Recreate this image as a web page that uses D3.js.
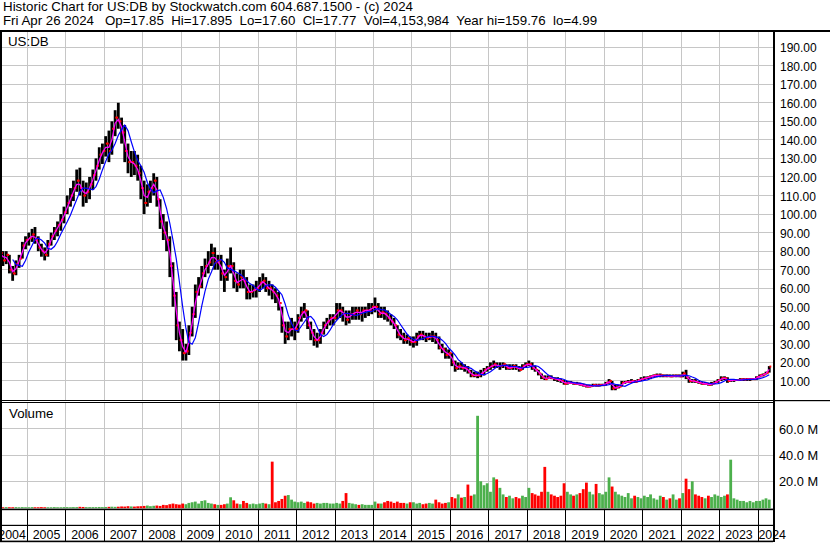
<!DOCTYPE html>
<html><head><meta charset="utf-8">
<script src="https://cdn.jsdelivr.net/npm/d3@7"></script>
<style>
html,body{margin:0;padding:0;background:#fff;}
svg{display:block;font-family:"Liberation Sans",Arial,sans-serif;}
text{white-space:pre;}
</style></head><body>
<svg id="c" width="830" height="543"></svg>
<script>
// ---- DATA (monthly, Apr 2004 .. Apr 2024) ----
const firstMonth = "2004-04";
const lastMonth = "2024-04";
const highs = [84,80,80,78,72,75,78,85,88,
 90,92,93,88,84,82,86,90,93,96,100,104,
 110,114,118,124,125,118,117,120,124,130,136,138,
 142,145,150,156,160,152,148,138,134,134,132,126,
 118,116,118,122,120,108,100,96,88,74,58,42,
 38,30,40,50,62,66,72,76,80,84,82,78,
 78,70,76,82,74,68,70,70,66,62,62,64,
 66,68,66,64,62,60,58,50,42,42,44,42,
 46,50,52,48,42,38,36,38,42,44,46,46,
 52,52,50,48,48,50,50,50,50,50,52,52,
 55,52,50,50,48,46,44,40,38,36,35,34,
 34,36,37,37,36,36,37,36,34,30,28,27,
 25,21,20,20,19,18,16,15,15,16,17,18,
 20,21,20,20,20,19,19,19,19,18,19,20,
 21,20,18,16,14,13,13,13,12,12,11,10.5,
 10,10,9.5,9.5,9,8.5,8,8,8.5,8.5,8.5,8.5,
 9.5,11,10,8,8,10,10,10.5,11,10.5,11,12,
 12.5,12.5,13,13.5,14,14,13.5,13.5,13.5,13.5,13.5,13.5,
 15,16,12,11,11,10,9.5,9.5,9,9.5,10,11,
 12.5,12.5,12,11,11,11,11.5,11.5,11.5,11.5,11.5,12.5,
 13.5,14,15,18];
const lows = [76,72,73,68,64,67,71,76,81,
 83,85,84,80,77,75,77,83,86,88,91,95,
 100,104,107,112,110,104,106,108,113,118,124,127,
 131,128,132,142,146,138,128,122,120,121,118,108,
 100,104,106,110,104,92,86,80,66,50,32,26,
 21,21,24,34,44,56,60,66,68,72,70,70,
 64,58,64,68,60,58,60,60,54,54,55,55,
 58,60,58,56,54,52,48,36,30,32,34,32,
 36,42,44,38,32,29,28,30,35,38,40,40,
 43,44,42,40,41,43,43,43,42,44,45,46,
 47,44,44,43,42,40,38,33,32,30,30,29,
 28,29,32,32,31,32,31,30,27,25,22,22,
 18,15,16,16,15,14,12,12,11.5,12,13,15,
 16,17,17,16,17,16,16,16,16,15,16,17,
 18,16,15,13,11,10.5,11,11,10,9.5,9,8,
 8,8.5,8,8,7.5,7,6.5,6.5,7,7,7,7.2,
 7.5,8.5,5,5,6,7,8.5,9,9,9,9.5,10,
 10.5,11,11,12,12,12,12,12,12,12,12,12,
 12,11,9,9,9,8.5,8,8,7.5,7.5,8.5,9,
 10,10.5,9,9.5,9.5,10,10,10,10,10,10.5,10.5,
 12,12.5,13.5,14.5];
const closes = [79,75,78,70,68,73,76,83,86,
 87,89,86,82,80,78,84,88,91,94,97,101,
 106,110,114,118,114,110,112,116,121,126,132,134,
 138,134,146,152,150,144,134,128,128,126,122,114,
 106,112,114,118,108,96,90,86,72,56,40,32,
 25,26,36,46,58,61,68,72,74,79,74,75,
 68,66,72,72,64,62,66,64,58,58,59,60,
 63,64,60,60,58,56,52,40,34,38,38,38,
 44,47,48,40,36,32,32,36,40,42,44,44,
 48,48,46,43,46,46,48,46,48,48,48,50,
 50,46,47,46,44,42,40,35,34,32,33,31,
 31,34,35,34,33,34,34,32,28,27,24,25,
 20,17,18,17,17,15,13,13,13,14,16,17,
 18,19,18,18,19,17,17,18,17,16,18,19,
 19,17,16,14,12,11,12,11.5,11,10.5,10,8.5,
 9,9,8.5,8.5,8,7.5,7,7.2,7.8,7.5,7.8,7.8,
 9,10,6,6.5,7,9,9.5,9.5,10,9.5,10.5,11,
 11.5,12,12.5,13,13,13,12.8,12.8,12.5,12.8,12.8,12.5,
 14,12,10,10,9.5,9,8.5,8.5,8,8.5,9.5,10.5,
 11.5,11.5,10,10.5,10.5,10.5,10.8,10.8,11,11,11,12,
 13,13.5,14.5,17.77];
// magenta (short) moving average, one value per month
const shortAvg = [79,77,76.5,74,69,70.5,74.5,79.5,84.5,
 86.5,88,87.5,84,81,79,81,86,89.5,92.5,95.5,99,
 103.5,108,112,116,116,112,111,114,118.5,123.5,129,133,
 136,136,140,149,151,147,139,131,128,127,124,118,
 110,109,113,116,113,102,93,88,79,64,48,36,
 28.5,25.5,31,41,52,59.5,64.5,70,73,76.5,76.5,74.5,
 71.5,67,69,72,68,63,64,65,61,58,58.5,59.5,
 61.5,63.5,62,60,59,57,54,46,37,36,38,38,
 41,45.5,47.5,44,38,34,32,34,38,41,43,44,
 46,48,47,44.5,44.5,46,47,47,47,48,48,49,
 50,48,46.5,46.5,45,43,41,37.5,34.5,33,32.5,32,
 31,32.5,34.5,34.5,33.5,33.5,34,33,30,27.5,25.5,24.5,
 22.5,18.5,17.5,17.5,17,16,14,13,13,13.5,15,16.5,
 17.5,18.5,18.5,18,18.5,18,17,17.5,17.5,16.5,17,18.5,
 19,18,16.5,15,13,11.5,11.5,11.8,11.2,10.8,10.2,9.2,
 8.8,9,8.8,8.5,8.2,7.8,7.2,7.1,7.5,7.6,7.6,7.8,
 8.4,9.5,8,6.2,6.8,8,9.2,9.5,9.8,9.8,10,10.8,
 11.2,11.8,12.2,12.8,13,13,12.9,12.8,12.6,12.6,12.8,12.6,
 13.2,13,11,10,9.8,9.2,8.8,8.5,8.2,8.2,9,10,
 11,11.5,10.8,10.2,10.5,10.5,10.6,10.8,10.9,11,11,11.5,
 12.5,13.2,14,16.2];
// blue (long) moving average, begins Aug 2004
const longAvgStart = "2004-08";
const longAvg = [75.5,72.8,72.3,71.8,75,
 79.5,83,86.3,87,86,84.3,81.5,81,82.5,85.3,89.3,92.5,
 95.8,99.5,103.5,107.8,112,114,114,113.5,113,114.8,118.8,123.8,
 128.3,132.5,134.5,138,142.5,145.5,148,145,139,133.5,129,126,
 122.5,117,113.5,111.5,112.5,113,109,103,95,86,76,63.5,
 50,38.3,30.8,29.8,33.3,41.5,50.3,58.3,64.8,68.8,73.3,74.8,
 75.5,74,70.8,70.3,69.5,68.5,67.5,66,64,62.5,61.5,59.8,
 58.8,60,61.5,61.8,61.8,60.5,58.5,56.5,51.5,45.5,41,37.5,
 37,39.5,41.8,44.3,44.8,42.8,39,35,34,35,37.5,40.5,
 42.5,44.5,46,46.5,46.3,45.8,45.3,45.8,46.5,47,47.5,47.5,
 48.5,49,48.5,48.3,47.3,45.8,44.8,43,40.3,37.8,35.3,33.5,
 32.5,31.8,32.3,32.8,33.5,34,34,33.8,33.3,32,30.3,27.8,
 26,24,21.5,20,18,17.3,16.8,15.5,14.5,13.5,13.3,14,
 15,16.3,17.5,18,18.3,18.5,18,17.8,17.8,17.3,17,17.3,
 17.5,18,18.3,17.8,16.5,14.8,13.3,12.3,11.6,11.4,11.3,10.8,
 10,9.5,9.1,8.8,8.8,8.5,8.1,7.8,7.4,7.4,7.4,7.6,
 7.7,8,8.7,8.2,7.9,7.4,7.1,8,8.8,9.5,9.6,9.9,
 10.3,10.6,11.3,11.8,12.3,12.6,12.9,13,12.9,12.8,12.7,12.7,
 12.7,13,12.8,12.1,11.5,10.4,9.6,9.3,8.9,8.5,8.4,8.6,
 9.1,10,10.8,10.9,10.9,10.6,10.4,10.6,10.7,10.8,10.9,11,
 11.3,11.8,12.4,13.3];
// volume, millions of shares per month (peak)
const volumes = [0.3,0.2,0.3,0.2,0.2,0.3,0.2,0.3,0.2,
 0.2,0.3,0.2,0.2,0.3,0.2,0.2,0.2,0.3,0.2,0.2,0.3,
 0.3,0.2,0.3,0.3,0.5,0.4,0.3,0.3,0.3,0.3,0.4,0.3,
 0.4,0.5,0.6,0.5,0.6,0.8,0.7,1.0,0.8,0.7,0.9,1.0,
 1.2,1.5,1.0,1.3,1.5,1.2,2.0,1.8,2.5,3.0,2.5,2.2,
 3.0,2.5,3.5,4.0,4.5,3.0,5.0,5.5,3.5,3.0,2.5,2.0,
 2.0,2.5,3.0,7.8,5.5,3.0,2.5,5.0,3.5,2.5,3.0,2.5,
 3.0,3.5,3.0,2.5,35,4.0,5.0,6.5,9.0,9.5,6.0,4.5,
 4.0,4.5,3.5,4.5,4.0,3.0,3.5,3.0,3.5,3.5,3.0,3.0,
 3.5,3.0,5.0,11,3.5,3.0,2.5,2.0,2.5,2.0,2.0,2.0,
 4.5,3.0,3.0,4.0,5.0,4.5,3.5,4.5,3.5,3.5,3.0,4.0,
 4.0,3.0,3.5,2.5,3.0,3.5,3.0,6.0,4.0,3.0,3.5,4.0,
 8.0,7.0,10.0,7.5,8.0,17.5,9.0,10,70,20,17,18.5,
 12,23,21.5,15,10,8,9,7,8,7,9,8,
 15,11,10,9,12,31,12,10,9,8,9,18.5,
 12,10,9,10,11,14,19,12,10,18,11,10,
 12,23,16,12,10,9,8,11,7,9,8,7,
 9,8,10,7,6,9,8,6,7,10,6,7,
 11,22,14,20,10,9,8,7,9,8,10,9,
 8,9,10,36.5,7,6,5,5,4,5,4,5,
 5,6,7,6];
const priceTicks = [10,20,30,40,50,60,70,80,90,100,110,120,130,140,150,160,170,180,190];
const volumeTicks = [20,40,60];
const years = [2004,2005,2006,2007,2008,2009,2010,2011,2012,2013,2014,2015,2016,2017,2018,2019,2020,2021,2022,2023,2024];
const headerLine1 = "Historic Chart for US:DB by Stockwatch.com 604.687.1500 - (c) 2024";
const headerLine2 = "Fri Apr 26 2024   Op=17.85  Hi=17.895  Lo=17.60  Cl=17.77  Vol=4,153,984  Year hi=159.76  lo=4.99";

// ---- LAYOUT ----
const W = 830, H = 543;
const plotL = 2, plotR = 773;
const priceTop = 32, priceBot = 400;
const volTop = 403, volBot = 508.5;
const parse = d3.timeParse("%Y-%m");
const months = d3.timeMonth.range(parse(firstMonth), d3.timeMonth.offset(parse(lastMonth), 1))
  .map(d => d3.timeDay.offset(d, 14));
const longMonths = months.slice(months.findIndex(d => d3.timeFormat("%Y-%m")(d) === longAvgStart));

const x = d3.scaleTime().domain([new Date(2005,0,1), new Date(2024,0,1)]).range([27.3, 758.2]);
const y = d3.scaleLinear().domain([0, 200]).range([399.5, 28.6]);
const yv = d3.scaleLinear().domain([0, 80]).range([507.5, 402.7]);
const crisp = v => Math.floor(v) + 0.5;

const svg = d3.select("#c");
svg.append("rect").attr("width", W).attr("height", H).attr("fill", "#fff");

// header
svg.append("text").attr("x", 3).attr("y", 10.5).attr("font-size", 13.3)
  .attr("textLength", 410).attr("lengthAdjust", "spacing").text(headerLine1);
svg.append("text").attr("x", 3).attr("y", 24.5).attr("font-size", 13.3).text(headerLine2);

svg.append("clipPath").attr("id", "cp").append("rect")
  .attr("x", plotL).attr("y", priceTop).attr("width", plotR - plotL).attr("height", priceBot - priceTop);
svg.append("clipPath").attr("id", "cv").append("rect")
  .attr("x", plotL).attr("y", volTop).attr("width", plotR - plotL).attr("height", volBot - volTop);

const gridCol = "#c6c6c6";
const yearBounds = years.slice(1).map(yr => new Date(yr, 0, 1));

// price grid
const gp = svg.append("g");
gp.selectAll(".hg").data(priceTicks).join("line")
  .attr("x1", plotL).attr("x2", plotR).attr("y1", d => crisp(y(d))).attr("y2", d => crisp(y(d)))
  .attr("stroke", gridCol).attr("stroke-width", 1);
gp.selectAll(".vg").data(yearBounds).join("line")
  .attr("x1", d => crisp(x(d))).attr("x2", d => crisp(x(d))).attr("y1", priceTop).attr("y2", priceBot)
  .attr("stroke", gridCol).attr("stroke-width", 1);

// volume grid
const gv = svg.append("g");
gv.selectAll(".hg").data(volumeTicks).join("line")
  .attr("x1", plotL).attr("x2", plotR).attr("y1", d => crisp(yv(d))).attr("y2", d => crisp(yv(d)))
  .attr("stroke", gridCol);
gv.selectAll(".vg").data(yearBounds).join("line")
  .attr("x1", d => crisp(x(d))).attr("x2", d => crisp(x(d))).attr("y1", volTop).attr("y2", volBot)
  .attr("stroke", gridCol);

// price bars
const bars = svg.append("g").attr("clip-path", "url(#cp)");
const idx = d3.range(months.length);
bars.selectAll(".b").data(idx).join("rect")
  .attr("x", i => x(months[i]) - 1.4).attr("width", 2.8)
  .attr("y", i => y(highs[i])).attr("height", i => Math.max(1, y(lows[i]) - y(highs[i])))
  .attr("fill", "#000");
bars.selectAll(".cl").data(idx).join("rect")
  .attr("x", i => x(months[i]) + 0.2).attr("width", 1.8)
  .attr("y", i => y(closes[i]) - 1).attr("height", 2).attr("fill", "#ff0000");
bars.selectAll(".op").data(idx.slice(1)).join("rect")
  .attr("x", i => x(months[i]) - 2).attr("width", 1.8)
  .attr("y", i => y(closes[i-1]) - 1).attr("height", 2).attr("fill", "#ff0000");

// moving averages
const lineM = d3.line().x((d, i) => x(months[i])).y(d => y(d));
bars.append("path").datum(shortAvg).attr("d", lineM)
  .attr("fill", "none").attr("stroke", "#ff00ff").attr("stroke-width", 1.3);
const lineB = d3.line().x((d, i) => x(longMonths[i])).y(d => y(d));
bars.append("path").datum(longAvg).attr("d", lineB)
  .attr("fill", "none").attr("stroke", "#0000ff").attr("stroke-width", 1.2);

// volume bars
const vb = svg.append("g").attr("clip-path", "url(#cv)");
vb.selectAll("rect").data(idx).join("rect")
  .attr("x", i => x(months[i]) - 1.4).attr("width", 2.8)
  .attr("y", i => yv(volumes[i])).attr("height", i => volBot - yv(volumes[i]))
  .attr("fill", i => (i > 0 && closes[i] < closes[i-1]) ? "#ff0000" : "#4cb04c");

// panel labels
svg.append("text").attr("x", 8).attr("y", 45.5).attr("font-size", 13.3).text("US:DB");
svg.append("text").attr("x", 9).attr("y", 418).attr("font-size", 13.3).text("Volume");

// right axes
svg.selectAll(".pl").data(priceTicks).join("text")
  .attr("x", 780).attr("y", d => y(d) + 5).attr("font-size", 12).attr("fill", "#000")
  .text(d => d3.format(".2f")(d));
svg.selectAll(".vl").data(volumeTicks).join("text")
  .attr("x", 779).attr("y", d => yv(d) + 5).attr("font-size", 12.8).attr("fill", "#000")
  .text(d => d3.format(".1f")(d) + " M");

// frame lines
const blk = "#000";
svg.append("rect").attr("x", 0).attr("y", 30).attr("width", W).attr("height", 2).attr("fill", blk);
svg.append("rect").attr("x", 0).attr("y", 30).attr("width", 2).attr("height", 512).attr("fill", blk);
svg.append("rect").attr("x", 773).attr("y", 30).attr("width", 2).attr("height", 512).attr("fill", blk);
svg.append("rect").attr("x", 2).attr("y", 400).attr("width", 771).attr("height", 1).attr("fill", blk);
svg.append("rect").attr("x", 2).attr("y", 402).attr("width", 771).attr("height", 1).attr("fill", blk);
svg.append("rect").attr("x", 775).attr("y", 400).attr("width", 55).attr("height", 1.2).attr("fill", blk);
svg.append("rect").attr("x", 0).attr("y", 508.6).attr("width", 773).attr("height", 1.6).attr("fill", blk);
svg.append("rect").attr("x", 0).attr("y", 524.8).attr("width", 773).attr("height", 1.2).attr("fill", blk);
svg.append("rect").attr("x", 0).attr("y", 540.6).attr("width", 773).attr("height", 1.6).attr("fill", blk);

// x axis tick separators
svg.selectAll(".xt").data(yearBounds).join("line")
  .attr("x1", d => crisp(x(d))).attr("x2", d => crisp(x(d))).attr("y1", 510).attr("y2", 541)
  .attr("stroke", blk).attr("stroke-width", 1);

// year labels
svg.selectAll(".yl").data(years).join("text")
  .attr("font-size", 12.4)
  .attr("text-anchor", d => d === 2004 ? "end" : d === 2024 ? "start" : "middle")
  .attr("x", d => d === 2004 ? x(new Date(2005,0,1)) - 1.5
                : d === 2024 ? x(new Date(2024,0,1)) + 0.2
                : (x(new Date(d,0,1)) + x(new Date(d+1,0,1))) / 2)
  .attr("y", 539)
  .text(d => d);
</script>
</body></html>
